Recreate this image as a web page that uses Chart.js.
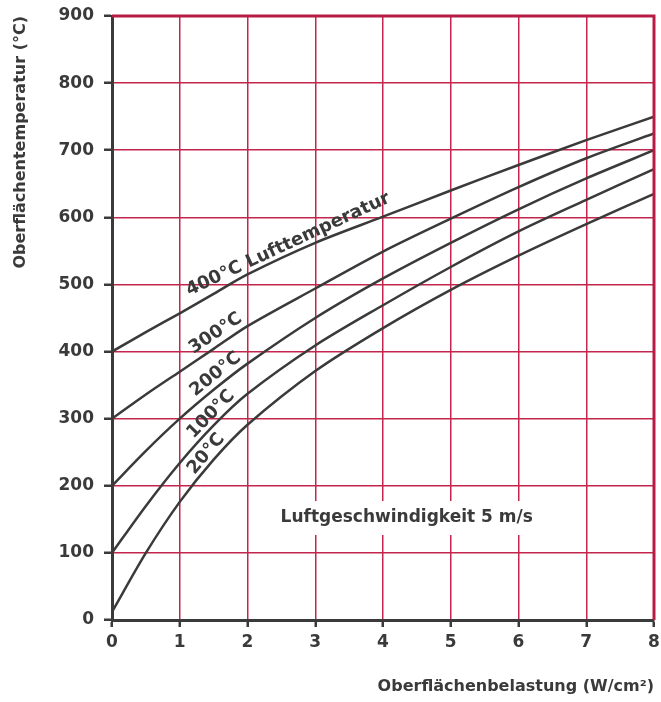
<!DOCTYPE html>
<html>
<head>
<meta charset="utf-8">
<script src="https://cdn.jsdelivr.net/npm/chart.js@4.4.1/dist/chart.umd.min.js"></script>
<style>
  html, body { margin: 0; padding: 0; background: #fff; }
</style>
</head>
<body>
<canvas id="chart" width="661" height="702"></canvas>
<script>
// Oberflächenbelastung (W/cm²)
const belastung = [0, 0.5, 1, 1.5, 2, 3, 4, 5, 6, 7, 8];
// Oberflächentemperatur (°C) je Lufttemperatur
const luft400 = [400, 429, 457, 486, 515, 562, 601, 640, 678, 715, 750];
const luft300 = [300, 336, 370, 404, 438, 494, 549, 598, 645, 688, 725];
const luft200 = [200, 252, 300, 343, 382, 450, 509, 562, 612, 658, 700];
const luft100 = [100, 170, 234, 290, 337, 409, 469, 526, 579, 626, 672];
const luft20 = [12, 100, 176, 239, 291, 371, 435, 492, 543, 590, 635];
const kurvenNamen = ["400°C Lufttemperatur", "300°C", "200°C", "100°C", "20°C"];
const hinweis = "Luftgeschwindigkeit 5 m/s";

const serien = [luft400, luft300, luft200, luft100, luft20];
const ink = "#3a3a3a";
const red = "#c3264d";
const font = '"DejaVu Sans", sans-serif';

// where the curve labels sit (x in W/cm², lift in px)
const labelAt = [
  { x: 2.6, lift: 11 },
  { x: 1.53, lift: 14 },
  { x: 1.53, lift: 14 },
  { x: 1.46, lift: 14 },
  { x: 1.39, lift: 15 },
];

function lerp(vals, xv) {
  for (let i = 0; i < belastung.length - 1; i++) {
    if (xv >= belastung[i] && xv <= belastung[i + 1]) {
      const t = (xv - belastung[i]) / (belastung[i + 1] - belastung[i]);
      return vals[i] + t * (vals[i + 1] - vals[i]);
    }
  }
  return vals[vals.length - 1];
}

const extras = {
  id: "extras",
  afterDatasetsDraw(chart) {
    const { ctx, chartArea: a, scales: { x, y } } = chart;
    ctx.save();
    // red frame top / right
    ctx.strokeStyle = "#b81c44";
    ctx.lineWidth = 3;
    ctx.beginPath();
    ctx.moveTo(a.left, a.top);
    ctx.lineTo(a.right, a.top);
    ctx.lineTo(a.right, a.bottom);
    ctx.stroke();

    // note with white box
    ctx.font = "bold 17px " + font;
    const nx = x.getPixelForValue(4.35), ny = y.getPixelForValue(152);
    const w = ctx.measureText(hinweis).width;
    ctx.fillStyle = "#fff";
    ctx.fillRect(nx - w / 2 - 10, ny - 17, w + 20, 34);
    ctx.fillStyle = ink;
    ctx.textAlign = "center";
    ctx.textBaseline = "middle";
    ctx.fillText(hinweis, nx, ny);

    // curve labels
    ctx.font = "bold 18px " + font;
    serien.forEach((vals, i) => {
      const lx = labelAt[i].x;
      const px = x.getPixelForValue(lx);
      const py = y.getPixelForValue(lerp(vals, lx));
      const dx = x.getPixelForValue(lx + 0.3) - x.getPixelForValue(lx - 0.3);
      const dy = y.getPixelForValue(lerp(vals, lx + 0.3)) - y.getPixelForValue(lerp(vals, lx - 0.3));
      ctx.save();
      ctx.translate(px, py - labelAt[i].lift);
      ctx.rotate(Math.atan2(dy, dx));
      ctx.fillText(kurvenNamen[i], 0, 0);
      ctx.restore();
    });
    ctx.restore();
  },
};

new Chart(document.getElementById("chart"), {
  type: "line",
  data: {
    datasets: serien.map((vals, i) => ({
      label: kurvenNamen[i],
      data: belastung.map((b, j) => ({ x: b, y: vals[j] })),
      borderColor: ink,
      borderWidth: 2.5,
      pointRadius: 0,
      tension: 0.3,
      fill: false,
    })),
  },
  options: {
    responsive: false,
    animation: false,
    layout: { padding: { top: 16, right: 7, left: 0, bottom: 0 } },
    plugins: { legend: { display: false }, tooltip: { enabled: false } },
    scales: {
      x: {
        type: "linear",
        min: 0,
        max: 8,
        afterFit: (s) => { s.height = 82; s.paddingLeft = 0; s.paddingRight = 0; },
        ticks: { stepSize: 1, color: ink, font: { family: font, size: 17, weight: "bold" }, padding: 5 },
        grid: { color: red, lineWidth: 1.5, tickColor: ink, tickLength: 7, tickWidth: 2.5 },
        border: { color: ink, width: 3 },
        title: {
          display: true,
          text: "Oberflächenbelastung (W/cm²)",
          align: "end",
          color: ink,
          font: { family: font, size: 16, weight: "bold" },
          padding: { top: 0, bottom: 6 },
        },
      },
      y: {
        min: 0,
        max: 900,
        afterFit: (s) => { s.width = 112; s.paddingTop = 0; s.paddingBottom = 0; },
        ticks: { stepSize: 100, color: ink, font: { family: font, size: 17, weight: "bold" }, padding: 10 },
        grid: { color: red, lineWidth: 1.5, tickColor: ink, tickLength: 8, tickWidth: 2.5 },
        border: { color: ink, width: 3 },
        title: {
          display: true,
          text: "Oberflächentemperatur (°C)",
          align: "end",
          color: ink,
          font: { family: font, size: 16, weight: "bold" },
          padding: { top: 11, bottom: 0 },
        },
      },
    },
  },
  plugins: [extras],
});
</script>
</body>
</html>
